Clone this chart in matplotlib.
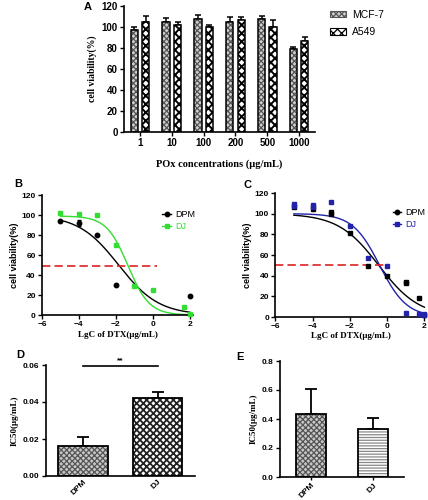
import numpy as np
import matplotlib
matplotlib.use("Agg")
import matplotlib.pyplot as plt
from matplotlib.patches import Patch

plt.rcParams['hatch.linewidth'] = 0.9
SANS = 'Liberation Sans'
SERIF = 'Liberation Serif'

# ---------------- Panel A data ----------------
conc_labels = ['1', '10', '100', '200', '500', '1000']
mcf7 = [97, 104.5, 107.5, 104, 107.5, 78.5]
mcf7_err = [3, 3.5, 3.5, 5, 3, 2.5]
a549 = [104.5, 101.5, 99.5, 106.5, 100, 86.5]
a549_err = [5.5, 3, 2, 3, 6, 4]

# ---------------- Panel B data ----------------
b_dpm_x = [-5, -4, -3, -2, 2]
b_dpm_y = [94, 92, 80.5, 30, 19]
b_dpm_err = [0, 3, 0, 0, 0]
b_dj_x = [-5, -4, -3, -2, -1, 0, 1.7, 2]
b_dj_y = [102, 101, 100, 70.5, 29, 25, 8, 1.5]
# fitted 4PL parameters (top, bottom, logIC50, hill)
b_dpm_fit = [100, 0, -1.85, 0.4]
b_dj_fit = [99, 0, -1.35, 0.75]

# ---------------- Panel C data ----------------
c_dpm_x = [-5, -4, -3, -3, -2, -1, 0, 1, 1, 1.7, 2]
c_dpm_y = [106, 105, 102, 100, 81, 49.5, 40, 34, 32.5, 18.5, 2]
c_dj_x = [-5, -5, -4, -4, -3, -2, -1, 0, 1, 1.7, 2, 2]
c_dj_y = [109, 107, 108, 106, 111, 88, 57, 49, 3.5, 3, 2.5, 2]
c_dpm_fit = [100, 0, -0.45, 0.4]
c_dj_fit = [100, 0, -0.4, 0.6]

# ---------------- Panel D / E data ----------------
groups = ['DPM', 'DJ']
d_vals = [0.016, 0.042]
d_err = [0.005, 0.0035]
e_vals = [0.435, 0.33]
e_err = [0.17, 0.08]


def logistic(x, p):
    top, bottom, logic, hill = p
    return bottom + (top - bottom) / (1 + 10 ** ((x - logic) * hill))


def hbar(ax, x, h, width, err, fill, hatch, hcolor, lw=1.1, cap=2.5, hlw=0.9):
    """Bar with a coloured hatch, black outline and upward-only error bar."""
    x = np.atleast_1d(x)
    h = np.atleast_1d(h)
    err = np.atleast_1d(err)
    with plt.rc_context({'hatch.linewidth': hlw}):
        bars = ax.bar(x, h, width, color=fill, edgecolor=hcolor, linewidth=0, hatch=hatch, zorder=2)
    for b in bars:
        if hasattr(b, 'set_hatch_linewidth'):
            b.set_hatch_linewidth(hlw)
    ax.bar(x, h, width, color='none', edgecolor='black', linewidth=lw, zorder=3)
    ax.errorbar(x, h, yerr=np.vstack([np.zeros(len(h)), err]), fmt='none', ecolor='black',
                elinewidth=lw, capsize=cap, capthick=lw, zorder=1)


fig = plt.figure(figsize=(4.28, 5.0), dpi=100)


def style_axes(ax, ticksize=6.5):
    for s in ['top', 'right']:
        ax.spines[s].set_visible(False)
    for s in ['left', 'bottom']:
        ax.spines[s].set_linewidth(1.2)
    ax.tick_params(width=1.0, length=3, labelsize=ticksize, pad=1.5)
    for lab in ax.get_xticklabels() + ax.get_yticklabels():
        lab.set_fontfamily(SANS)
        lab.set_fontweight('bold')


# ---------------- Panel A ----------------
axA = fig.add_axes([0.290, 0.736, 0.446, 0.253])
xa = np.arange(len(conc_labels))
w = 0.23
hbar(axA, xa - 0.18, mcf7, w, mcf7_err, '#d0d0d0', 'xxxxxx', '#555555')
hbar(axA, xa + 0.18, a549, w, a549_err, 'white', 'xxxx', 'black', hlw=1.4)
axA.set_xlim(-0.5, 5.5)
axA.set_ylim(0, 120)
axA.set_yticks(range(0, 121, 20))
axA.set_xticks(xa)
axA.set_xticklabels(conc_labels)
style_axes(axA, 7)
axA.set_ylabel('cell viability(%)', fontfamily=SERIF, fontweight='bold', fontsize=7, labelpad=3)
axA.set_xlabel('POx concentrations (μg/mL)', fontfamily=SERIF, fontweight='bold', fontsize=7.5, labelpad=8)
la = [Patch(facecolor='#d0d0d0', edgecolor='#555555', hatch='xxxxxx', linewidth=0.8),
      Patch(facecolor='white', edgecolor='black', hatch='xxxx', linewidth=0.8)]
axA.legend(la, ['MCF-7', 'A549'], loc='upper left', bbox_to_anchor=(1.03, 1.04), frameon=False,
           prop={'family': SANS, 'size': 7.5}, handlelength=1.5, handleheight=0.55,
           handletextpad=0.6, labelspacing=0.7)
fig.text(88 / 428, 1 - 7 / 500, 'A', fontfamily=SANS, fontweight='bold', fontsize=8, va='center', ha='center')

# ---------------- Panel B ----------------
axB = fig.add_axes([0.098, 0.37, 0.354, 0.24])
xs = np.linspace(-5, 2, 200)
axB.plot(xs, logistic(xs, b_dpm_fit), color='black', lw=1.0)
axB.plot(xs, logistic(xs, b_dj_fit), color='#33dd33', lw=1.0)
axB.errorbar(b_dpm_x, b_dpm_y, yerr=b_dpm_err, fmt='o', color='black', ms=3.2,
             capsize=1.5, elinewidth=0.8, zorder=3)
axB.plot(b_dj_x, b_dj_y, 's', color='#33dd33', ms=3.5, zorder=3, clip_on=False)
axB.plot([-6, 0.2], [49, 49], color='#dd2222', lw=1.2, dashes=(5, 2.5))
axB.set_xlim(-6, 2.2)
axB.set_ylim(0, 120)
axB.set_xticks([-6, -4, -2, 0, 2])
axB.set_yticks(range(0, 121, 20))
style_axes(axB, 6)
axB.set_ylabel('cell viability(%)', fontfamily=SANS, fontweight='bold', fontsize=6.5, labelpad=2)
axB.set_xlabel('LgC of DTX(μg/mL)', fontfamily=SERIF, fontweight='bold', fontsize=6.5, labelpad=2)
hb = [plt.Line2D([], [], color='black', marker='o', ms=3.2, lw=1.0),
      plt.Line2D([], [], color='#33dd33', marker='s', ms=3.5, lw=1.0)]
axB.legend(hb, ['DPM', 'DJ'], loc='upper left', bbox_to_anchor=(0.74, 0.94), frameon=False,
           prop={'family': SANS, 'size': 6.5}, handlelength=1.0, handletextpad=0.5,
           labelcolor=['black', '#33dd33'], labelspacing=0.3)
fig.text(18 / 428, 1 - 184 / 500, 'B', fontfamily=SANS, fontweight='bold', fontsize=8, va='center', ha='center')

# ---------------- Panel C ----------------
axC = fig.add_axes([0.643, 0.366, 0.353, 0.248])
axC.plot(xs, logistic(xs, c_dpm_fit), color='black', lw=1.0)
axC.plot(xs, logistic(xs, c_dj_fit), color='#2222aa', lw=1.0)
axC.plot(c_dpm_x, c_dpm_y, 's', color='black', ms=3.0, zorder=3, clip_on=False)
axC.plot(c_dj_x, c_dj_y, 's', color='#2222aa', ms=3.3, zorder=3, clip_on=False)
axC.plot([-6, 0.1], [50, 50], color='#dd2222', lw=1.2, dashes=(5, 2.5))
axC.set_xlim(-6, 2.1)
axC.set_ylim(0, 120)
axC.set_xticks([-6, -4, -2, 0, 2])
axC.set_yticks(range(0, 121, 20))
style_axes(axC, 6)
axC.set_ylabel('cell viability(%)', fontfamily=SANS, fontweight='bold', fontsize=6.5, labelpad=2)
axC.set_xlabel('LgC of DTX(μg/mL)', fontfamily=SERIF, fontweight='bold', fontsize=6.5, labelpad=1)
hc = [plt.Line2D([], [], color='black', marker='o', ms=3.2, lw=1.0),
      plt.Line2D([], [], color='#2222aa', marker='s', ms=3.3, lw=1.0)]
axC.legend(hc, ['DPM', 'DJ'], loc='upper left', bbox_to_anchor=(0.74, 0.93), frameon=False,
           prop={'family': SANS, 'size': 6.5}, handlelength=0.9, handletextpad=0.4,
           labelcolor=['black', '#2222aa'], labelspacing=0.3, borderpad=0.2)
fig.text(247 / 428, 1 - 185 / 500, 'C', fontfamily=SANS, fontweight='bold', fontsize=8, va='center', ha='center')

# ---------------- Panel D ----------------
axD = fig.add_axes([0.107, 0.048, 0.348, 0.222])
xd = np.arange(2)
hbar(axD, xd[0], d_vals[0], 0.66, d_err[0], '#c8c8c8', 'xxxxxx', '#555555', lw=1.3, cap=4)
hbar(axD, xd[1], d_vals[1], 0.66, d_err[1], 'white', 'xxxxx', '#222222', lw=1.3, cap=4, hlw=1.3)
axD.plot([0, 1], [0.0595, 0.0595], color='black', lw=1.2, clip_on=False)
axD.text(0.5, 0.0605, '**', ha='center', va='bottom', fontsize=6, fontfamily=SANS, fontweight='bold')
axD.set_xlim(-0.5, 1.5)
axD.set_ylim(0, 0.06)
axD.set_yticks([0, 0.02, 0.04, 0.06])
axD.set_yticklabels(['0.00', '0.02', '0.04', '0.06'])
axD.set_xticks(xd)
axD.set_xticklabels(groups, rotation=45, ha='right', rotation_mode='anchor')
style_axes(axD, 6)
axD.tick_params(axis='x', length=0)
axD.set_ylabel('IC50(μg/mL)', fontfamily=SERIF, fontweight='bold', fontsize=6.5, labelpad=3)
fig.text(20 / 428, 1 - 355 / 500, 'D', fontfamily=SANS, fontweight='bold', fontsize=8, va='center', ha='center')

# ---------------- Panel E ----------------
axE = fig.add_axes([0.654, 0.046, 0.29, 0.232])
hbar(axE, xd[0], e_vals[0], 0.48, e_err[0], '#c8c8c8', 'xxxxxx', '#555555', lw=1.3, cap=4)
hbar(axE, xd[1], e_vals[1], 0.48, e_err[1], 'white', '------', '#888888', lw=1.3, cap=4)
axE.set_xlim(-0.5, 1.5)
axE.set_ylim(0, 0.8)
axE.set_yticks([0, 0.2, 0.4, 0.6, 0.8])
axE.set_xticks(xd)
axE.set_xticklabels(groups, rotation=45, ha='right', rotation_mode='anchor')
style_axes(axE, 6)
axE.tick_params(axis='x', length=2)
axE.set_ylabel('IC50(μg/mL)', fontfamily=SERIF, fontweight='bold', fontsize=6.5, labelpad=3)
fig.text(240 / 428, 1 - 357 / 500, 'E', fontfamily=SANS, fontweight='bold', fontsize=8, va='center', ha='center')

fig.savefig('out.png', dpi=100)
